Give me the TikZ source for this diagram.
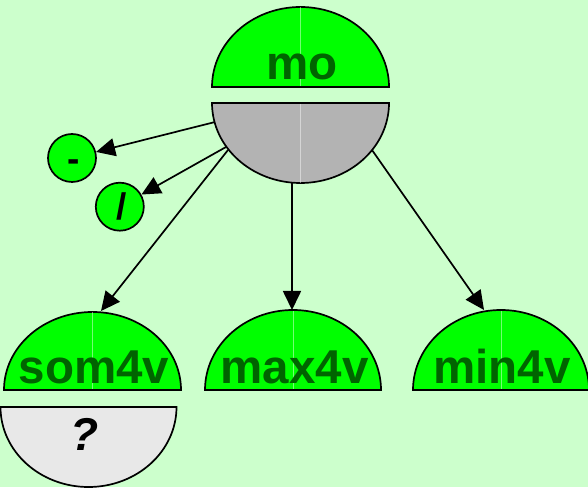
\documentclass[tikz,border=0pt]{standalone}
\usepackage{fontspec}
\setmainfont{Liberation Sans}
\usetikzlibrary{arrows.meta}
\definecolor{bgc}{RGB}{204,255,204}
\definecolor{nodegreen}{RGB}{0,255,0}
\definecolor{labgreen}{RGB}{0,100,0}
\definecolor{greyhalf}{RGB}{179,179,179}
\definecolor{lightgrey}{RGB}{232,232,232}
\tikzset{
  halfshape/.style={draw=black, line width=1.7pt},
  lbl/.style={anchor=base, text=labgreen, inner sep=0pt,
    font=\fontsize{47.5}{47.5}\selectfont\bfseries},
  oplbl/.style={anchor=base, text=black, inner sep=0pt,
    font=\fontsize{37}{37}\selectfont\bfseries},
  opnode/.style={circle, draw=black, fill=nodegreen, line width=1.7pt,
    minimum size=48pt, inner sep=0pt},
  conn/.style={-{Triangle[length=19pt,width=18pt]}, line width=1.7pt},
  seam/.style={white, opacity=0.45, line width=0.7pt}
}
\begin{document}
\begin{tikzpicture}[x=1pt,y=1pt]
  \fill[bgc] (0,0) rectangle (588,487);
  \useasboundingbox (0,0) rectangle (588,487);
  \begin{scope}
  \clip (0,0) rectangle (588,487);
  % mo
  \draw[halfshape, fill=nodegreen] (212,400) arc[start angle=180, end angle=0, x radius=88.5, y radius=80] -- cycle;
  \draw[seam] (300.5,401) -- (300.5,480);
  \draw[halfshape, fill=greyhalf] (212,384) arc[start angle=180, end angle=360, x radius=88.5, y radius=80] -- cycle;
  \draw[seam] (300.5,383) -- (300.5,304);
  \node[lbl] (mo) at (302,407) {mo};
  % som4v
  \draw[halfshape, fill=nodegreen] (4,97) arc[start angle=180, end angle=0, x radius=88.5, y radius=78] -- cycle;
  \draw[seam] (92.5,98) -- (92.5,175);
  \draw[halfshape, fill=lightgrey] (0.5,80) arc[start angle=180, end angle=360, x radius=88, y radius=80] -- cycle;
  \node[lbl] (som) at (94,103.5) {som4v};
  \node[anchor=base, inner sep=0pt, font=\fontsize{46}{46}\selectfont\bfseries\itshape] (q) at (84.5,37) {?};
  % max4v
  \draw[halfshape, fill=nodegreen] (205,97) arc[start angle=180, end angle=0, x radius=88, y radius=80] -- cycle;
  \draw[seam] (293,98) -- (293,176);
  \node[lbl] (max) at (294.5,103.5) {max4v};
  % min4v
  \draw[halfshape, fill=nodegreen] (413,97) arc[start angle=180, end angle=0, x radius=88, y radius=80] -- cycle;
  \draw[seam] (501,98) -- (501,176);
  \node[lbl] (min) at (502,103.5) {min4v};
  \end{scope}
  % operator circles
  \node[opnode] (minus) at (72,329) {};
  \node[oplbl] (minuslbl) at (74,315.6) {-};
  \node[opnode] (slash) at (119.8,280.3) {};
  \node[oplbl] (slashlbl) at (121.5,267.5) {/};
  % connector endpoints
  \coordinate (s1) at (215,365);
  \coordinate (s2) at (226,340);
  \coordinate (s3) at (228,337);
  \coordinate (e3) at (101,176);
  \coordinate (s4) at (292,304);
  \coordinate (e4) at (292,177);
  \coordinate (s5) at (372,337);
  \coordinate (e5) at (484,177);
  \draw[conn] (s1) -- (minus);
  \draw[conn] (s2) -- (slash);
  \draw[conn] (s3) -- (e3);
  \draw[conn] (s4) -- (e4);
  \draw[conn] (s5) -- (e5);
\end{tikzpicture}
\end{document}
